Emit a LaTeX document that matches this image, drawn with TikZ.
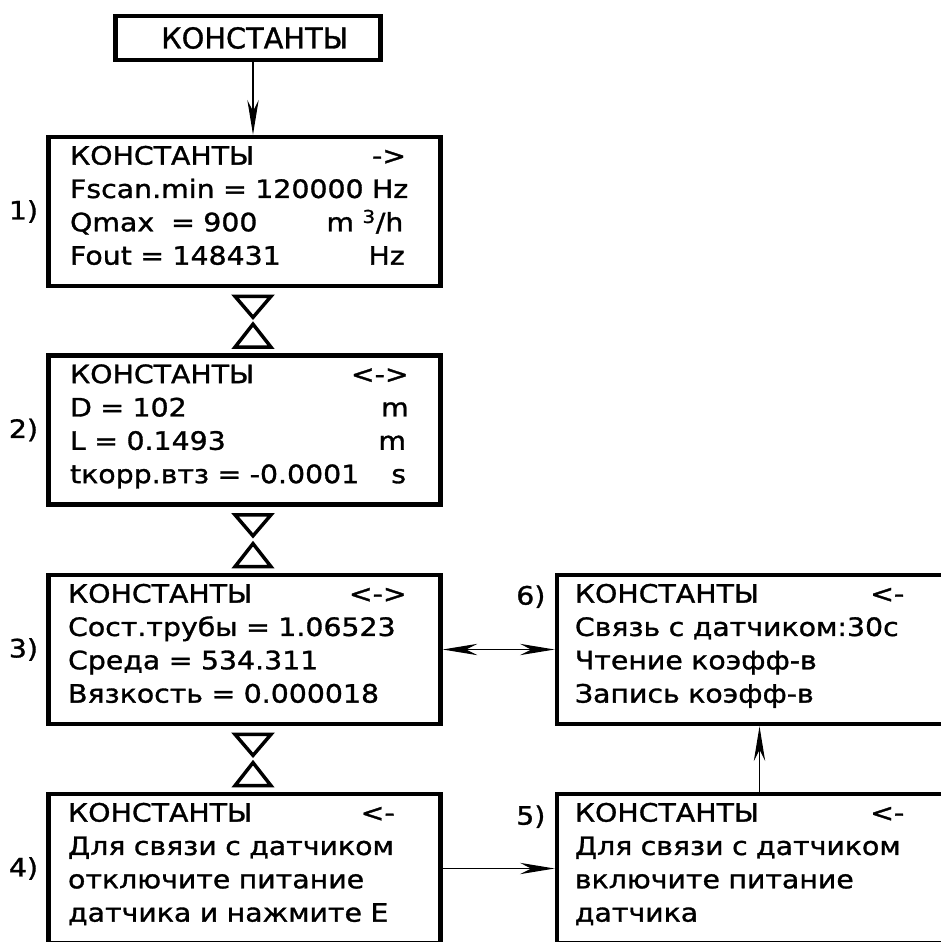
\documentclass[tikz,border=0pt]{standalone}
\usepackage{fontspec}
\usepackage{tikz}
\usetikzlibrary{arrows.meta,positioning,calc}
\newfontfamily\lcdfont[FakeStretch=1.12,FakeBold=1.2]{DejaVu Sans}
\newfontfamily\headfont[FakeBold=1.2]{DejaVu Sans}
% one display line: left text, right text, optional right gap
\newcommand{\displine}[3][0pt]{\makebox[\linewidth][l]{#2\hfill#3\hspace*{#1}}}

\tikzset{
  dispbox/.style={draw, line width=3.3pt, minimum width=294pt, minimum height=112pt, inner sep=0pt},
  disptext/.style={font=\lcdfont\fontsize{19}{25}\selectfont, text width=259pt, align=left, inner sep=0pt, anchor=base west},
  numlbl/.style={font=\lcdfont\fontsize{19}{25}\selectfont, inner sep=0pt},
  trimark/.style={line width=2.6pt},
  conn/.style={line width=0.8pt, -{Stealth[length=26pt,width=8.5pt]}},
  dconn/.style={line width=0.8pt, {Stealth[length=26pt,width=8.5pt]}-{Stealth[length=26pt,width=8.5pt]}}
}

\begin{document}
\begin{tikzpicture}[x=0.75pt,y=0.75pt,yscale=-1,xscale=1]
\useasboundingbox (0,0) rectangle (940,942);

% Title box
\node[draw, line width=3.4pt, minimum width=199pt, minimum height=33pt, inner sep=0pt,
      font=\headfont\fontsize{21.6}{26}\selectfont] (head) at (248,38) {\hspace*{10pt}КОНСТАНТЫ};

% Display boxes
\node[dispbox] (b1) at (244.5,211.5) {};
\node[dispbox] (b2) at (244.5,430) {};
\node[dispbox] (b3) at (244.5,649.5) {};
\node[dispbox] (b4) at (244.5,868.5) {};
\node[dispbox, minimum width=304pt] (b5) at (759.5,868.5) {};
\node[dispbox, minimum width=304pt] (b6) at (759.5,649.5) {};

% Display texts
\node[disptext] (t1) at ([shift={(23.5,30)}]b1.north west) {%
  \displine[7pt]{КОНСТАНТЫ}{->}\\
  \displine{Fscan.min = 120000 Hz}{}\\
  \displine[9pt]{Qmax\ \ = 900}{m \textsuperscript{3}/h}\\
  \displine[8pt]{Fout = 148431}{Hz}};
\node[disptext] (t2) at ([shift={(23.5,30)}]b2.north west) {%
  \displine[5pt]{КОНСТАНТЫ}{<->}\\
  \displine[5pt]{D = 102}{m}\\
  \displine[7pt]{L = 0.1493}{m}\\
  \displine[7pt]{tкорр.втз = -0.0001}{s}};
\node[disptext] (t3) at ([shift={(21.5,30)}]b3.north west) {%
  \displine[5pt]{КОНСТАНТЫ}{<->}\\
  \displine{Сост.трубы = 1.06523}{}\\
  \displine{Среда = 534.311}{}\\
  \displine{Вязкость = 0.000018}{}};
\node[disptext] (t4) at ([shift={(21.5,30)}]b4.north west) {%
  \displine[14pt]{КОНСТАНТЫ}{<-}\\
  \displine{Для связи с датчиком}{}\\
  \displine{отключите питание}{}\\
  \displine{датчика и нажмите E}{}};
\node[disptext] (t5) at ([shift={(20,30)}]b5.north west) {%
  \displine[12pt]{КОНСТАНТЫ}{<-}\\
  \displine{Для связи с датчиком}{}\\
  \displine{включите питание}{}\\
  \displine{датчика}{}};
\node[disptext] (t6) at ([shift={(20,30)}]b6.north west) {%
  \displine[12pt]{КОНСТАНТЫ}{<-}\\
  \displine{Связь с датчиком:30с}{}\\
  \displine{Чтение коэфф-в}{}\\
  \displine{Запись коэфф-в}{}};

% Step numbers
\node[numlbl, left=6pt of b1] (n1) {1)};
\node[numlbl, left=6pt of b2] (n2) {2)};
\node[numlbl, left=6pt of b3] (n3) {3)};
\node[numlbl, left=6pt of b4] (n4) {4)};
\node[numlbl, anchor=base east] (n5) at ([shift={(-9,33)}]b5.north west) {5)};
\node[numlbl, anchor=base east] (n6) at ([shift={(-9,32)}]b6.north west) {6)};

% Scroll marks
\coordinate (ax) at (253,0);
\foreach \u/\l in {b1/b2,b2/b3,b3/b4}{
  \draw[trimark] ($(\u.south -| ax)+(-18,8)$) -- ++(36,0) -- ++(-18,21) -- cycle;
  \draw[trimark] ($(\l.north -| ax)+(-18,-6)$) -- ++(36,0) -- ++(-18,-23) -- cycle;
}

% Connectors
\draw[conn] (head.south -| ax) -- (b1.north -| ax);
\draw[dconn] (b3.east) -- (b6.west);
\draw[conn] (b4.east) -- (b5.west);
\draw[conn] (b5.north) -- (b6.south);

\end{tikzpicture}
\end{document}
